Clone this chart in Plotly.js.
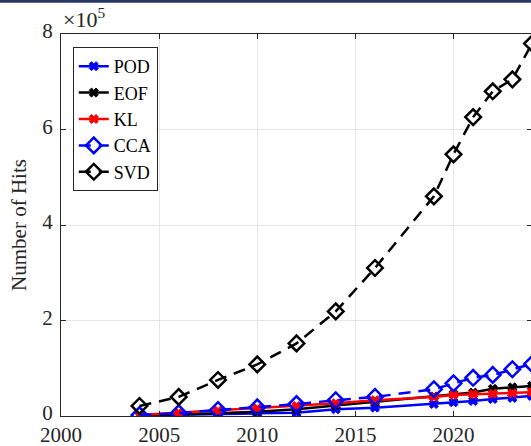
<!DOCTYPE html>
<html>
<head>
<meta charset="utf-8">
<script src="https://cdn.plot.ly/plotly-3.0.1.min.js"></script>
<style>
html,body{margin:0;padding:0;overflow:hidden;background:#fff;}
#chart{width:533px;height:446px;}
</style>
</head>
<body>
<div id="chart"></div>
<script>
var years = [2004, 2006, 2008, 2010, 2012, 2014, 2016, 2019, 2020, 2021, 2022, 2023, 2024];
var pod = [1000, 2000, 4000, 5500, 7000, 14000, 17500, 25000, 28700, 31400, 35500, 38000, 42000];
var eof = [1000, 3000, 6000, 9000, 14000, 22000, 30000, 41000, 46000, 49000, 57000, 60000, 63000];
var kl  = [2000, 7000, 11000, 15500, 21000, 26500, 33000, 40000, 44000, 45500, 46500, 47500, 50000];
var cca = [2000, 6000, 12500, 18000, 25000, 33000, 40000, 56000, 68500, 80000, 86000, 98000, 109000];
var svd = [21000, 40000, 75500, 108000, 152000, 219000, 310000, 460000, 548000, 626000, 680000, 705000, 780000];
var seriesNames = ['POD', 'EOF', 'KL', 'CCA', 'SVD'];
var yTickVals = [0, 200000, 400000, 600000, 800000];
var yTickText = ['0', '2', '4', '6', '8'];
var xTickVals = [2000, 2005, 2010, 2015, 2020];

var solidMarker = function(c){ return {symbol:'x', size:8, color:c, line:{color:c, width:1}}; };
var diaMarker = function(c){ return {symbol:'diamond-open', size:12, color:c, line:{color:c, width:2.5}}; };

var traces = [
  {x:years, y:pod, name:seriesNames[0], mode:'lines+markers', line:{color:'#0000ff', width:2.5}, marker:solidMarker('#0000ff')},
  {x:years, y:eof, name:seriesNames[1], mode:'lines+markers', line:{color:'#000000', width:2.5}, marker:solidMarker('#000000')},
  {x:years, y:kl,  name:seriesNames[2], mode:'lines+markers', line:{color:'#ff0000', width:2.5}, marker:solidMarker('#ff0000')},
  {x:years, y:cca, name:seriesNames[3], mode:'lines+markers', line:{color:'#0000ff', width:2.5, dash:'12px,8px'}, marker:diaMarker('#0000ff')},
  {x:years, y:svd, name:seriesNames[4], mode:'lines+markers', line:{color:'#000000', width:2.5, dash:'12px,8px'}, marker:diaMarker('#000000')}
];

var fam = '"Liberation Serif", "DejaVu Serif", serif';
var tickFont = {family:fam, size:21, color:'#262626'};

var layout = {
  width:533, height:446,
  margin:{l:61, r:1, t:34, b:30},
  paper_bgcolor:'#ffffff', plot_bgcolor:'#ffffff',
  font:{family:fam, size:20, color:'#262626'},
  showlegend:true,
  legend:{x:0.025, y:0.966, xanchor:'left', yanchor:'top', bgcolor:'#ffffff', bordercolor:'#262626', borderwidth:1,
          font:{family:fam, size:18, color:'#000'}, tracegroupgap:0},
  xaxis:{range:[2000, 2024], tickvals:xTickVals, ticks:'inside', ticklen:5, tickcolor:'#262626',
         showline:true, linecolor:'#262626', linewidth:1, mirror:'ticks', showgrid:true, gridcolor:'#e6e6e6',
         zeroline:false, tickfont:tickFont, ticklabelstandoff:0},
  yaxis:{range:[0, 800000], tickvals:yTickVals, ticktext:yTickText, ticks:'inside', ticklen:5, tickcolor:'#262626',
         showline:true, linecolor:'#262626', linewidth:1, mirror:'ticks', showgrid:true, gridcolor:'#e6e6e6',
         zeroline:false, tickfont:tickFont, ticklabelstandoff:3, ticklabelshift:-3,
         title:{text:'Number of Hits', font:{family:fam, size:21, color:'#262626'}, standoff:9}},
  annotations:[
    {xref:'paper', yref:'paper', x:0.0, y:1.0, xanchor:'left', yanchor:'bottom', showarrow:false, yshift:0,
     text:'×10<sup>5</sup>', font:{family:fam, size:22, color:'#262626'}}
  ],
  shapes:[
    {type:'rect', xref:'paper', yref:'paper', x0:-0.2, x1:1.1, y0:1.082, y1:1.1, line:{width:0}, fillcolor:'#2b3566', layer:'above'}
  ]
};

Plotly.newPlot('chart', traces, layout, {displayModeBar:false, staticPlot:true});
</script>
</body>
</html>
